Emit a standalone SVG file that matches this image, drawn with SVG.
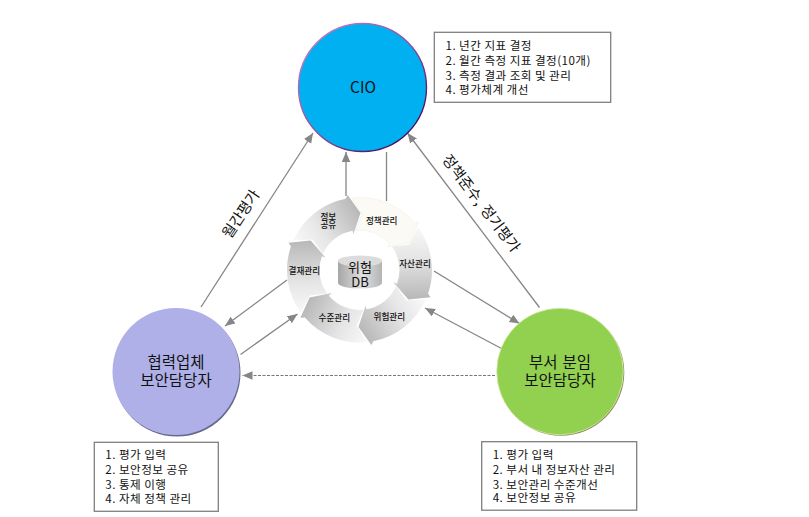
<svg xmlns="http://www.w3.org/2000/svg" xmlns:xlink="http://www.w3.org/1999/xlink" width="809" height="517" viewBox="0 0 809 517">
<style>
text{font-family:"Noto Sans CJK KR","Noto Sans",sans-serif;fill:#111}
.box{fill:#fff;stroke:#7f7f7f;stroke-width:1.3}
.list{font-size:11.6px;letter-spacing:0.45px}
.title{font-size:15.5px;text-anchor:middle;word-spacing:1.5px}
.seg{font-size:8.6px;text-anchor:middle;font-weight:500}
.rot{font-size:14.8px;text-anchor:middle;word-spacing:1.5px}
.line{fill:none;stroke:#868686;stroke-width:1.3}
</style>
<defs>
<marker id="ah" markerUnits="userSpaceOnUse" markerWidth="12" markerHeight="10" refX="10" refY="4.25" orient="auto">
<path d="M0 0L10 4.25L0 8.5Z" fill="#868686"/>
</marker>
<linearGradient id="segG" gradientUnits="userSpaceOnUse" x1="-8" y1="-62" x2="54" y2="-28">
<stop offset="0" stop-color="#f6f6f6"/><stop offset="0.35" stop-color="#e6e6e6"/><stop offset="1" stop-color="#b4b4b4"/>
</linearGradient>
<linearGradient id="cioEdge" x1="0.1" y1="0.1" x2="0.85" y2="0.9">
<stop offset="0" stop-color="#c77bc0"/><stop offset="0.55" stop-color="#8a4a9a"/><stop offset="1" stop-color="#3f0c5e"/>
</linearGradient>
<linearGradient id="cylG" x1="0" y1="0" x2="1" y2="0">
<stop offset="0" stop-color="#a6a6a6"/><stop offset="0.55" stop-color="#e0e0e0"/><stop offset="1" stop-color="#b4b4b4"/>
</linearGradient>
<path id="segShape" d="M-7.6 -72.1A72.5 72.5 0 0 1 54.7 -47.6L59.1 -47.8L49.9 -27.6L27.6 -23.1L30.6 -25.7A40 40 0 0 0 -4.2 -39.8L2.9 -55.9Z"/>
</defs>

<g id="connectors">
<path class="line" d="M201 307L313 133" marker-end="url(#ah)"/>
<path class="line" d="M346 196L346 152" marker-end="url(#ah)"/>
<path class="line" d="M386.5 201V152"/>
<path class="line" d="M539.5 307.5L407.5 133" marker-end="url(#ah)"/>
<path class="line" d="M434 271L519.5 323.5" marker-end="url(#ah)"/>
<path class="line" d="M501.5 348.5L425 308" marker-end="url(#ah)"/>
<path class="line" d="M287 280L225 326" marker-end="url(#ah)"/>
<path class="line" d="M240.5 354.5L297.5 314" marker-end="url(#ah)"/>
<path class="line" d="M495 375.5H242.5" stroke-dasharray="3 1.5" style="stroke-width:1;stroke:#777" marker-end="url(#ah)"/>
</g>

<g id="cycle">
<g transform="translate(359.5 270)" fill="url(#segG)">
<use xlink:href="#segShape" href="#segShape" transform="rotate(60)"/>
<use xlink:href="#segShape" href="#segShape" transform="rotate(120)"/>
<use xlink:href="#segShape" href="#segShape" transform="rotate(180)"/>
<use xlink:href="#segShape" href="#segShape" transform="rotate(240)"/>
<use xlink:href="#segShape" href="#segShape" transform="rotate(300)"/>
<use xlink:href="#segShape" href="#segShape" style="fill:#fbfaf5;stroke:#efeee8;stroke-width:0.6"/>
</g>
<text class="seg" x="381.7" y="224">정책관리</text>
<text class="seg" x="415" y="267">자산관리</text>
<text class="seg" x="389.3" y="320">위험관리</text>
<text class="seg" x="334.3" y="320.5">수준관리</text>
<text class="seg" x="304.3" y="274">결재관리</text>
<text class="seg" x="328.3" y="220">정보</text>
<text class="seg" x="328.3" y="228">공유</text>
</g>

<g id="db">
<path d="M338 261V283A22 5.5 0 0 0 382 283V261Z" fill="url(#cylG)"/>
<ellipse cx="360" cy="261" rx="22" ry="5.5" fill="#dcdcdc"/>
<text x="360" y="272" font-size="13" text-anchor="middle" fill="#333">위험</text>
<text x="360" y="286.5" font-size="13" text-anchor="middle" fill="#333">DB</text>
</g>

<g id="cio">
<circle cx="362.5" cy="87.5" r="64" fill="#00b0f0" stroke="url(#cioEdge)" stroke-width="1.4"/>
<text class="title" x="363" y="93">CIO</text>
</g>
<g id="cio-tasks">
<rect class="box" x="434.3" y="32.3" width="176.4" height="70"/>
<text class="list" x="445.5" y="49.5">1. 년간 지표 결정</text>
<text class="list" x="445.5" y="64.5">2. 월간 측정 지표 결정(10개)</text>
<text class="list" x="445.5" y="79.5">3. 측정 결과 조회 및 관리</text>
<text class="list" x="445.5" y="94">4. 평가체계 개선</text>
</g>

<g id="partner">
<circle cx="177" cy="373" r="63.5" fill="#666a8c"/>
<circle cx="176" cy="371.5" r="63.5" fill="#b0b0e8"/>
<text class="title" x="176" y="367.5">협력업체</text>
<text class="title" x="176" y="386">보안담당자</text>
</g>
<g id="partner-tasks">
<rect class="box" x="94.3" y="442.3" width="124" height="69"/>
<text class="list" x="105.3" y="459">1. 평가 입력</text>
<text class="list" x="105.3" y="474">2. 보안정보 공유</text>
<text class="list" x="105.3" y="488.5">3. 통제 이행</text>
<text class="list" x="105.3" y="502.5">4. 자체 정책 관리</text>
</g>

<g id="dept">
<circle cx="561" cy="372.5" r="63.3" fill="#8c8a58"/>
<circle cx="560" cy="371.5" r="63.3" fill="#92d050" stroke="#dcebb0" stroke-width="0.8"/>
<text class="title" x="560" y="368">부서 분임</text>
<text class="title" x="560" y="386">보안담당자</text>
</g>
<g id="dept-tasks">
<rect class="box" x="481.7" y="441.7" width="155" height="68.5"/>
<text class="list" x="492.7" y="458.5">1. 평가 입력</text>
<text class="list" x="492.7" y="473.5">2. 부서 내 정보자산 관리</text>
<text class="list" x="492.7" y="488.5">3. 보안관리 수준개선</text>
<text class="list" x="492.7" y="502">4. 보안정보 공유</text>
</g>

<g id="edge-labels">
<text class="rot" transform="translate(241 214) rotate(-56.6) translate(0 5)">월간평가</text>
<text class="rot" transform="translate(481 203.5) rotate(52.8) translate(0 5)">정책준수, 정기평가</text>
</g>
</svg>
